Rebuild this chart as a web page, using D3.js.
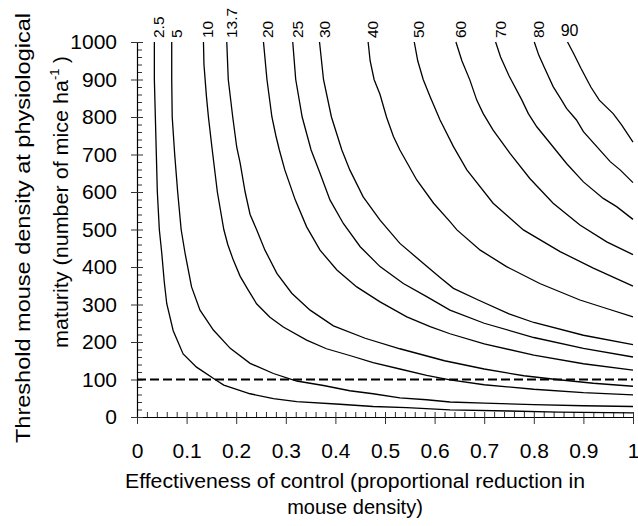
<!DOCTYPE html>
<html>
<head>
<meta charset="utf-8">
<script src="https://cdn.jsdelivr.net/npm/d3@7"></script>
<style>
  html, body { margin: 0; padding: 0; background: #fff; }
  svg { display: block; }
  text { font-family: "Liberation Sans", Arial, sans-serif; fill: #000; }
</style>
</head>
<body>
<svg id="chart" width="638" height="526"></svg>
<script>
// ---- Data ----
const contourLabels = ["2.5", "5", "10", "13.7", "20", "25", "30", "40", "50", "60", "70", "80", "90"];

const c2_5 = [[0.035,1000],[0.035,900],[0.037,800],[0.039,700],[0.041,600],[0.045,500],[0.050,436],[0.055,360],[0.060,302],[0.073,230],[0.093,168],[0.120,133],[0.162,96],[0.175,85],[0.228,62],[0.275,49],[0.322,41],[0.409,34],[0.476,28],[0.544,25],[0.631,19],[0.75,16],[0.85,13],[1.0,11]];
const c5 = [[0.070,1000],[0.070,900],[0.071,800],[0.076,700],[0.082,600],[0.089,500],[0.097,436],[0.110,347],[0.127,285],[0.154,232],[0.188,183],[0.228,143],[0.275,116],[0.322,96],[0.376,84],[0.429,70],[0.476,62],[0.530,51],[0.584,46],[0.631,40],[0.70,37],[0.80,33],[0.90,30],[1.0,28]];
const c10 = [[0.134,1000],[0.135,940],[0.140,855],[0.144,800],[0.151,720],[0.162,600],[0.175,500],[0.183,460],[0.194,419],[0.208,375],[0.224,339],[0.241,302],[0.268,266],[0.295,240],[0.342,205],[0.382,182],[0.429,164],[0.476,145],[0.530,128],[0.584,111],[0.631,99],[0.70,86],[0.80,74],[0.90,65],[1.0,59]];
const c13_7 = [[0.181,1000],[0.184,900],[0.193,800],[0.201,720],[0.208,677],[0.218,600],[0.228,540],[0.241,500],[0.258,445],[0.282,383],[0.312,330],[0.349,285],[0.396,243],[0.46,210],[0.53,182],[0.62,150],[0.70,128],[0.78,110],[0.846,100],[0.92,90],[1.0,82]];
const c20 = [[0.255,1000],[0.262,900],[0.272,800],[0.280,750],[0.287,712],[0.298,659],[0.319,579],[0.342,507],[0.369,445],[0.403,392],[0.443,347],[0.490,307],[0.544,267],[0.591,241],[0.631,222],[0.70,195],[0.80,165],[0.90,142],[1.0,125]];
const c25 = [[0.314,1000],[0.320,900],[0.333,800],[0.351,712],[0.369,650],[0.389,579],[0.416,516],[0.450,454],[0.490,401],[0.537,356],[0.584,321],[0.631,285],[0.70,250],[0.80,212],[0.90,183],[1.0,160]];
const c30 = [[0.368,1000],[0.376,900],[0.392,800],[0.413,712],[0.429,659],[0.456,587],[0.490,525],[0.530,463],[0.577,410],[0.611,372],[0.638,343],[0.688,312],[0.75,275],[0.80,252],[0.90,218],[1.0,193]];
const c40 = [[0.466,1000],[0.470,950],[0.478,900],[0.490,860],[0.503,800],[0.517,748],[0.530,712],[0.564,632],[0.598,570],[0.631,521],[0.645,499],[0.692,445],[0.745,401],[0.812,356],[0.893,312],[0.95,288],[1.0,267]];
const c50 = [[0.559,1000],[0.566,950],[0.577,900],[0.591,854],[0.611,792],[0.638,721],[0.665,659],[0.718,570],[0.779,499],[0.853,441],[0.920,397],[1.0,349]];
const c60 = [[0.643,1000],[0.655,950],[0.671,899],[0.685,845],[0.698,809],[0.718,765],[0.752,703],[0.792,636],[0.839,570],[0.893,512],[0.947,467],[1.0,433]];
const c70 = [[0.723,1000],[0.733,960],[0.750,910],[0.776,845],[0.789,809],[0.806,774],[0.833,730],[0.866,676],[0.900,627],[0.940,583],[0.967,561],[1.0,527]];
const c80 = [[0.801,1000],[0.810,965],[0.822,930],[0.839,881],[0.856,845],[0.866,823],[0.886,792],[0.900,761],[0.927,721],[0.954,681],[0.974,659],[1.0,625]];
const c90 = [[0.868,1000],[0.880,970],[0.895,930],[0.915,880],[0.932,845],[0.960,809],[0.977,779],[1.0,733]];

const thresholdValue = 100;
const xTickValues = [0, 0.1, 0.2, 0.3, 0.4, 0.5, 0.6, 0.7, 0.8, 0.9, 1];
const xTickLabels = ["0", "0.1", "0.2", "0.3", "0.4", "0.5", "0.6", "0.7", "0.8", "0.9", "1"];
const yTickValues = [0, 100, 200, 300, 400, 500, 600, 700, 800, 900, 1000];
const xTitleLines = ["Effectiveness of control (proportional reduction in", "mouse density)"];
const yTitleLine1 = "Threshold mouse density at physiological";
const yTitleLine2a = "maturity (number of mice ha";
const yTitleSup = "-1";
const yTitleLine2b = " )";

const contours = [c2_5, c5, c10, c13_7, c20, c25, c30, c40, c50, c60, c70, c80, c90];

// ---- Layout ----
const svg = d3.select("#chart");
const x = d3.scaleLinear().domain([0, 1]).range([137, 633]);
const y = d3.scaleLinear().domain([0, 1000]).range([417, 42]);

svg.append("rect").attr("width", 638).attr("height", 526).attr("fill", "#fff");

// Minor ticks
const xMinor = d3.range(0, 51).map(i => i / 50).filter(v => Math.round(v * 50) % 5 !== 0);
const yMinor = d3.range(0, 51).map(i => i * 20).filter(v => v % 100 !== 0);

const gx = svg.append("g").attr("transform", `translate(0,${y(0)})`);
gx.call(d3.axisBottom(x).tickValues(xMinor).tickSize(-5).tickFormat(""));
gx.selectAll("path.domain").remove();
gx.selectAll("line").attr("stroke", "#333");
const gx2 = svg.append("g").attr("transform", `translate(0,${y(0)})`);
gx2.call(d3.axisBottom(x).tickValues(xTickValues).tickSizeInner(7).tickSizeOuter(0)
  .tickPadding(19).tickFormat((d, i) => xTickLabels[i]));
gx2.select("path.domain").attr("stroke", "#000").attr("stroke-width", 1.2);
gx2.selectAll(".tick line").attr("y1", -5).attr("stroke", "#333");
gx2.selectAll(".tick text").attr("font-size", 21).attr("font-family", "Liberation Sans, Arial, sans-serif").attr("fill", "#000");

const gy = svg.append("g").attr("transform", `translate(${x(0)},0)`);
gy.call(d3.axisLeft(y).tickValues(yMinor).tickSize(-5).tickFormat(""));
gy.selectAll("path.domain").remove();
gy.selectAll("line").attr("stroke", "#333");
const gy2 = svg.append("g").attr("transform", `translate(${x(0)},0)`);
gy2.call(d3.axisLeft(y).tickValues(yTickValues).tickSizeInner(6).tickSizeOuter(0)
  .tickPadding(14).tickFormat(d3.format("d")));
gy2.select("path.domain").attr("stroke", "#000").attr("stroke-width", 1.2);
gy2.selectAll(".tick line").attr("x1", 6).attr("stroke", "#333");
gy2.selectAll(".tick text").attr("font-size", 21).attr("font-family", "Liberation Sans, Arial, sans-serif").attr("fill", "#000");

// Dashed threshold line
svg.append("line")
  .attr("x1", x(0)).attr("x2", x(1))
  .attr("y1", y(thresholdValue)).attr("y2", y(thresholdValue))
  .attr("stroke", "#000").attr("stroke-width", 2).attr("stroke-dasharray", "9,4");

// Contour lines
const line = d3.line().x(d => x(d[0])).y(d => y(d[1])).curve(d3.curveLinear);
svg.append("g").selectAll("path").data(contours).join("path")
  .attr("d", line).attr("fill", "none").attr("stroke", "#000").attr("stroke-width", 1.3);

// Contour labels
const lg = svg.append("g");
contours.forEach((c, i) => {
  const lab = contourLabels[i];
  const tx = x(c[0][0]);
  if (lab === "90") {
    lg.append("text").attr("x", tx + 2).attr("y", 36).attr("text-anchor", "middle")
      .attr("font-size", 16).text(lab);
  } else {
    lg.append("text").attr("transform", `translate(${tx + 10},38) rotate(-90)`)
      .attr("text-anchor", "start").attr("font-size", 15.5).text(lab);
  }
});

// Axis titles
svg.append("text").attr("x", 355).attr("y", 488).attr("text-anchor", "middle")
  .attr("font-size", 20).attr("textLength", 460).attr("lengthAdjust", "spacingAndGlyphs")
  .text(xTitleLines[0]);
svg.append("text").attr("x", 355).attr("y", 514).attr("text-anchor", "middle")
  .attr("font-size", 20).text(xTitleLines[1]);

svg.append("text").attr("transform", "translate(30,443) rotate(-90)")
  .attr("text-anchor", "start").attr("font-size", 20)
  .attr("textLength", 430).attr("lengthAdjust", "spacingAndGlyphs").text(yTitleLine1);
const t2 = svg.append("text").attr("transform", "translate(68,348) rotate(-90)")
  .attr("text-anchor", "start").attr("font-size", 20);
t2.append("tspan").attr("textLength", 268).attr("lengthAdjust", "spacingAndGlyphs").text(yTitleLine2a);
t2.append("tspan").attr("dy", -9).attr("font-size", 13).text(yTitleSup);
t2.append("tspan").attr("dy", 9).text(yTitleLine2b);
</script>
</body>
</html>
